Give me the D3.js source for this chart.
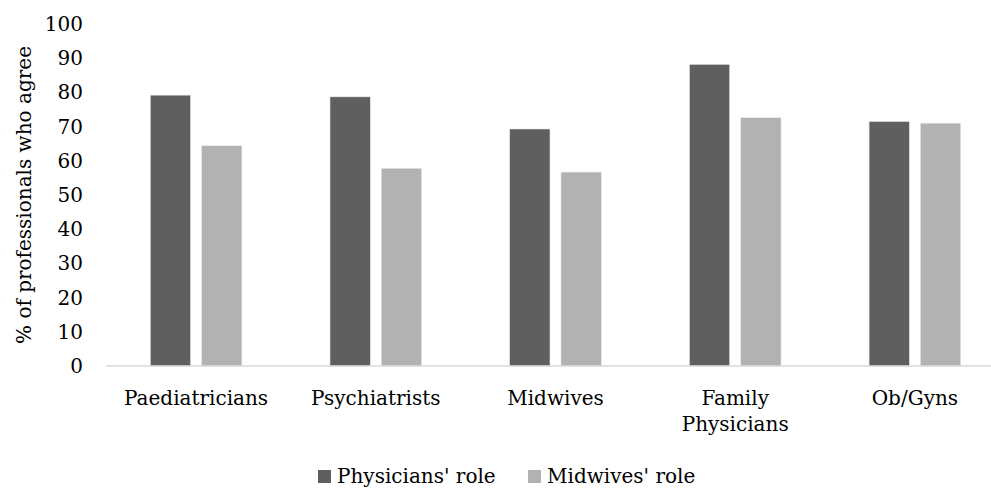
<!DOCTYPE html>
<html><head><meta charset="utf-8">
<script src="https://cdn.jsdelivr.net/npm/d3@7"></script>
<style>
html,body{margin:0;padding:0;background:#fff;}
svg text{font-family:"DejaVu Serif",serif;fill:#000;}
</style></head>
<body>
<svg id="chart" width="991" height="488"></svg>
<script>
const categories = ["Paediatricians", "Psychiatrists", "Midwives", "Family Physicians", "Ob/Gyns"];
const categoryLines = [["Paediatricians"], ["Psychiatrists"], ["Midwives"], ["Family", "Physicians"], ["Ob/Gyns"]];
const seriesNames = ["Physicians' role", "Midwives' role"];
const physiciansRole = [79.2, 78.7, 69.3, 88.2, 71.5];
const midwivesRole = [64.4, 57.8, 56.7, 72.6, 71.0];
const yTicks = [0, 10, 20, 30, 40, 50, 60, 70, 80, 90, 100];
const colors = ["#5f5f5f", "#b2b2b2"];

const svg = d3.select("#chart");
const fs = 20;

const x0 = d3.scaleBand().domain(categories).range([106.25, 1004.75]).padding(0);
const x1 = d3.scaleBand().domain([0, 1]).range([0, x0.bandwidth()]).paddingInner(0.214).paddingOuter(0.858);
const y = d3.scaleLinear().domain([0, 100]).range([366, 24]);

// y axis labels
const yAxis = d3.axisLeft(y).tickValues(yTicks).tickSize(0).tickPadding(0);
const gy = svg.append("g").attr("transform", "translate(83,0)").call(yAxis);
gy.select(".domain").remove();
gy.selectAll("text").style("font-family", '"DejaVu Serif", serif').style("font-size", fs + "px").attr("fill", "#000");

// bars
const data = categories.map((c, i) => ({c, vals: [physiciansRole[i], midwivesRole[i]]}));
const groups = svg.append("g").selectAll("g").data(data).join("g")
  .attr("transform", d => `translate(${x0(d.c)},0)`);
groups.selectAll("rect").data(d => d.vals.map((v, k) => ({v, k}))).join("rect")
  .attr("x", d => x1(d.k))
  .attr("width", x1.bandwidth())
  .attr("y", d => y(d.v))
  .attr("height", d => y(0) - y(d.v))
  .attr("fill", d => colors[d.k])
  .attr("stroke", "#e8e8e8").attr("stroke-width", 0.6);

// baseline
svg.append("line").attr("x1", 106).attr("x2", 991).attr("y1", y(0)).attr("y2", y(0))
  .attr("stroke", "#d9d9d9").attr("stroke-width", 1.5);

// x labels
const xl = svg.append("g").selectAll("text").data(categories).join("text")
  .attr("x", d => x0(d) + x0.bandwidth() / 2)
  .attr("y", 405)
  .attr("text-anchor", "middle")
  .style("font-size", fs + "px");
xl.each(function(d, i) {
  const t = d3.select(this);
  categoryLines[i].forEach((ln, j) => {
    t.append("tspan").attr("x", x0(d) + x0.bandwidth() / 2).attr("dy", j === 0 ? 0 : 26).text(ln);
  });
});

// y title
svg.append("text")
  .attr("transform", `translate(31,${(y(0) + y(100)) / 2}) rotate(-90)`)
  .attr("text-anchor", "middle")
  .style("font-size", fs + "px")
  .text("% of professionals who agree");

// legend
const legendX = [318, 528];
const lg = svg.append("g").selectAll("g").data(seriesNames).join("g")
  .attr("transform", (d, i) => `translate(${legendX[i]},0)`);
lg.append("rect").attr("x", 0).attr("y", 470).attr("width", 13).attr("height", 13)
  .attr("fill", (d, i) => colors[i]);
lg.append("text").attr("x", 19).attr("y", 483).style("font-size", fs + "px").text(d => d);
</script>
</body></html>
